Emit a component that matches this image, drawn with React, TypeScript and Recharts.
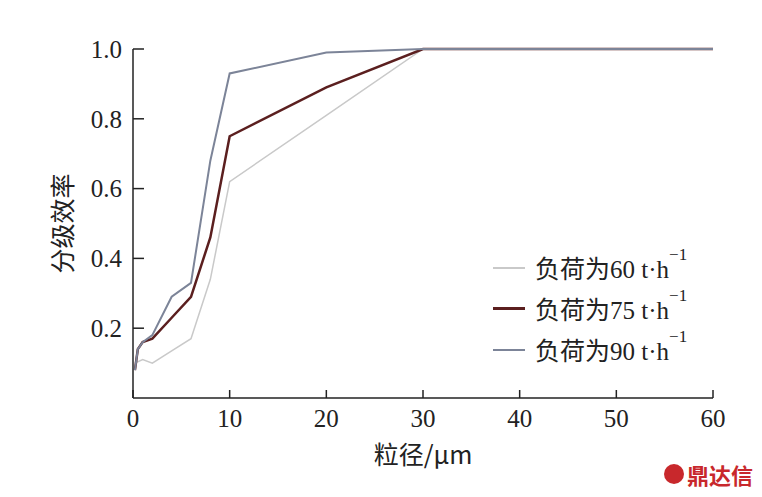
import { LineChart, Line, XAxis, YAxis } from "recharts";

const sizes60 = [0.2, 1, 2, 4, 6, 8, 10, 20, 30, 40, 50, 60];
const eff60 = [0.1, 0.11, 0.1, 0.135, 0.17, 0.34, 0.62, 0.81, 1.0, 1.0, 1.0, 1.0];

const sizes75 = [0.2, 0.5, 1, 2, 4, 6, 8, 10, 20, 30, 40, 50, 60];
const eff75 = [0.08, 0.14, 0.16, 0.17, 0.23, 0.29, 0.46, 0.75, 0.89, 1.0, 1.0, 1.0, 1.0];

const sizes90 = [0.2, 0.5, 1, 2, 4, 6, 8, 10, 20, 30, 40, 50, 60];
const eff90 = [0.08, 0.14, 0.16, 0.18, 0.29, 0.33, 0.68, 0.93, 0.99, 1.0, 1.0, 1.0, 1.0];

const xTicks = [0, 10, 20, 30, 40, 50, 60];
const yTicks = [0.2, 0.4, 0.6, 0.8, 1.0];

const loads = ["60", "75", "90"];
const colors = ["#c9c9c9", "#5b1f1f", "#7c8498"];
const widths = [1.5, 2.5, 2];

const toRows = (xs: number[], ys: number[]) => xs.map((x, i) => ({ x, y: ys[i] }));

const series = [toRows(sizes60, eff60), toRows(sizes75, eff75), toRows(sizes90, eff90)];

const serif = "'Liberation Serif', 'DejaVu Serif', serif";
const cjk = "'Noto Sans CJK SC', sans-serif";

function LegendBox() {
  return (
    <div style={{ position: "absolute", left: 493, top: 247, fontFamily: cjk, fontSize: 25, color: "#222" }}>
      {loads.map((l, i) => (
        <div key={l} style={{ display: "flex", alignItems: "center", height: 41 }}>
          <div style={{ width: 32, height: 0, borderTop: `${widths[i] + 0.5}px solid ${colors[i]}`, marginRight: 10 }} />
          <span style={{ lineHeight: "30px" }}>
            负荷为<span style={{ fontFamily: serif }}>{l} t·h</span>
            <sup style={{ fontFamily: serif, fontSize: 17, position: "relative", top: -9 }}>−1</sup>
          </span>
        </div>
      ))}
    </div>
  );
}

export default function App() {
  return (
    <div style={{ position: "absolute", left: 0, top: 0, width: 762, height: 497, background: "#fff" }}>
      <LineChart width={762} height={497} margin={{ top: 49, right: 49, left: 0, bottom: 0 }}>
        <XAxis
          type="number"
          dataKey="x"
          domain={[0, 60]}
          ticks={xTicks}
          height={99}
          tickSize={-8}
          tickMargin={19}
          stroke="#222"
          strokeWidth={1.5}
          tick={{ fill: "#222", fontSize: 25, fontFamily: serif }}
          allowDuplicatedCategory={false}
          label={{ value: "粒径/μm", position: "insideTop", offset: 48, fill: "#222", fontSize: 25, fontFamily: cjk }}
        />
        <YAxis
          type="number"
          domain={[0, 1]}
          ticks={yTicks}
          width={133}
          tickSize={-11}
          tickMargin={22}
          stroke="#222"
          strokeWidth={1.5}
          tickFormatter={(v: number) => v.toFixed(1)}
          tick={{ fill: "#222", fontSize: 25, fontFamily: serif }}
          label={{ value: "分级效率", angle: -90, position: "insideLeft", offset: 63, fill: "#222", fontSize: 25, fontFamily: cjk, style: { textAnchor: "middle" } }}
        />
        {series.map((d, i) => (
          <Line
            key={loads[i]}
            data={d}
            dataKey="y"
            type="linear"
            stroke={colors[i]}
            strokeWidth={widths[i]}
            dot={false}
            isAnimationActive={false}
          />
        ))}
      </LineChart>
      <LegendBox />
      <div style={{ position: "absolute", left: 664, top: 458, display: "flex", alignItems: "center", color: "#c8282c", fontFamily: cjk, fontWeight: 700, fontSize: 22 }}>
        <div style={{ width: 20, height: 20, borderRadius: 10, background: "#c8282c", marginRight: 3 }} />
        鼎达信
      </div>
    </div>
  );
}
